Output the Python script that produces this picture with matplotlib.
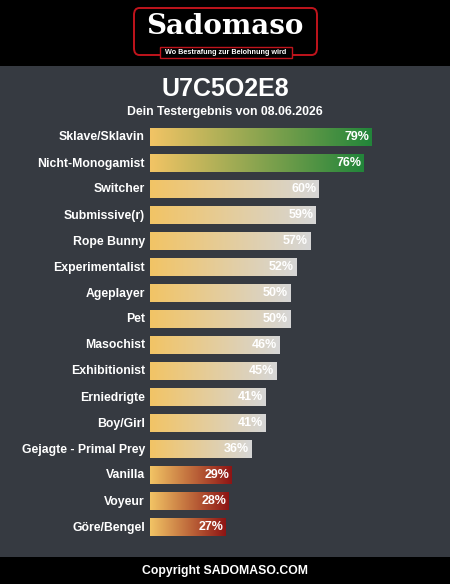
import numpy as np
import matplotlib
matplotlib.use("Agg")
from matplotlib import pyplot as plt
from matplotlib.colors import LinearSegmentedColormap
from matplotlib.patches import FancyBboxPatch, Rectangle

plt.rcParams['font.family'] = ['Liberation Sans', 'DejaVu Sans']

title = "U7C5O2E8"
subtitle = "Dein Testergebnis von 08.06.2026"
categories = ["Sklave/Sklavin", "Nicht-Monogamist", "Switcher", "Submissive(r)",
              "Rope Bunny", "Experimentalist", "Ageplayer", "Pet", "Masochist",
              "Exhibitionist", "Erniedrigte", "Boy/Girl", "Gejagte - Primal Prey",
              "Vanilla", "Voyeur", "Göre/Bengel"]
values = [79, 76, 60, 59, 57, 52, 50, 50, 46, 45, 41, 41, 36, 29, 28, 27]

W, H = 450, 584
bg = "#363a41"
start_col = "#f2c465"
green_end = "#22853a"
grey_end = "#d6d6d6"
red_end = "#8e1414"

fig = plt.figure(figsize=(W / 100, H / 100), dpi=100)
fig.patch.set_facecolor("black")

# gray panel between header and footer
fig.patches.append(Rectangle((0, 27 / H), 1, (557 - 66) / H, transform=fig.transFigure,
                             facecolor=bg, edgecolor="none", zorder=-1))

# logo
logo = FancyBboxPatch((134 / W, 1 - 55 / H), 183 / W, 47 / H,
                      boxstyle="round,pad=0,rounding_size=0.012",
                      transform=fig.transFigure, facecolor="black",
                      edgecolor="#c0141c", linewidth=1.4, zorder=1)
fig.patches.append(logo)
fig.text(225 / W, 1 - 26 / H, "Sadomaso", ha="center", va="center", color="white",
         fontsize=20, fontweight="bold", family=["DejaVu Serif"], zorder=3)
fig.patches.append(Rectangle((160 / W, 1 - 58 / H), 132 / W, 11 / H, transform=fig.transFigure,
                             facecolor="black", edgecolor="#c0141c", linewidth=1.0, zorder=2))
fig.text(226 / W, 1 - 52.5 / H, "Wo Bestrafung zur Belohnung wird", ha="center", va="center",
         color="white", fontsize=5.2, fontweight="bold", zorder=3)

fig.text(225 / W, 1 - 89 / H, title, ha="center", va="center", color="white",
         fontsize=18, fontweight="bold")
fig.text(225 / W, 1 - 112 / H, subtitle, ha="center", va="center", color="white",
         fontsize=8.8, fontweight="bold")
fig.text(225 / W, 1 - 571 / H, "Copyright SADOMASO.COM", ha="center", va="center",
         color="white", fontsize=8.8, fontweight="bold")

# bar area: 0..100% maps to 150..431 px, rows every 26 px starting at 137
n = len(categories)
ax = fig.add_axes([150 / W, 1 - (137.5 + 26 * (n - 0.5)) / H, 281 / W, 26 * n / H])
ax.set_zorder(2)
ax.set_xlim(0, 100)
ax.set_ylim(n - 0.5, -0.5)
ax.axis("off")
ax.patch.set_alpha(0)

grad = np.linspace(0, 1, 256).reshape(1, -1)
half = 0.335
for i, (cat, v) in enumerate(zip(categories, values)):
    if v >= 70:
        end = green_end
    elif v < 30:
        end = red_end
    else:
        end = grey_end
    cmap = LinearSegmentedColormap.from_list("g%d" % i, [start_col, end])
    ax.imshow(grad, extent=(0, v, i + half, i - half), cmap=cmap, aspect="auto",
              interpolation="bilinear")
    ax.text(v - 0.8, i, "%d%%" % v, ha="right", va="center", color="white",
            fontsize=9, fontweight="bold")
    ax.text(-1.8, i, cat, ha="right", va="center", color="white",
            fontsize=8.8, fontweight="bold", clip_on=False)

fig.savefig("out.png", dpi=100, facecolor=fig.get_facecolor())
